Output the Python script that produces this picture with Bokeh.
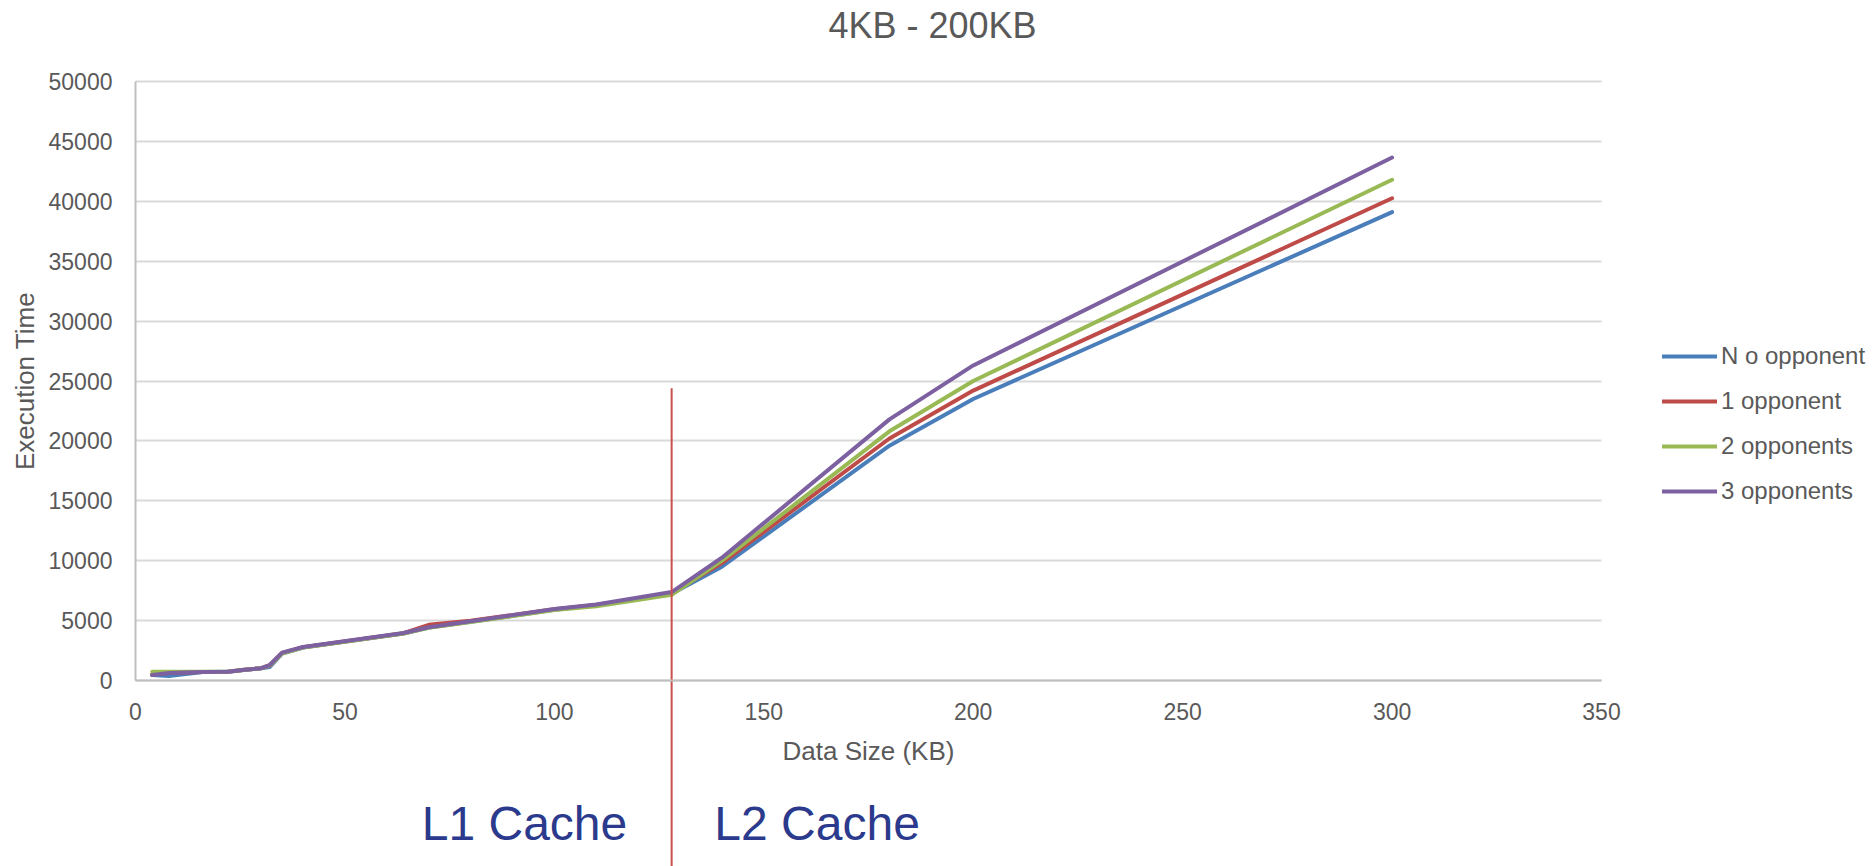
from bokeh.plotting import figure
from bokeh.models import (Range1d, FixedTicker, Legend, LegendItem, Label,
                          BasicTickFormatter, LinearAxis, Grid)
from bokeh.embed import file_html
from bokeh.resources import INLINE

# ---- data ----
x_kb = [4, 8, 16, 22, 26, 30, 32, 35, 40, 64, 70, 80, 100, 110, 128, 140, 180, 200, 300]
no_opponent = [450, 380, 700, 720, 880, 1020, 1120, 2250, 2750, 3920, 4420, 4900, 5900, 6300, 7250, 9500, 19600, 23500, 39100]
one_opponent = [500, 650, 700, 730, 890, 1030, 1250, 2300, 2780, 3950, 4650, 4980, 5950, 6300, 7300, 9800, 20200, 24200, 40250]
two_opponents = [720, 720, 730, 740, 890, 1030, 1250, 2250, 2750, 3920, 4400, 4880, 5880, 6200, 7150, 10000, 20800, 25000, 41800]
three_opponents = [450, 620, 700, 730, 890, 1030, 1280, 2330, 2800, 3960, 4450, 4950, 5970, 6350, 7380, 10250, 21800, 26300, 43650]

series_names = ["N o opponent", "1 opponent", "2 opponents", "3 opponents"]
series_values = [no_opponent, one_opponent, two_opponents, three_opponents]
series_colors = ["#4a7ebb", "#be4b48", "#98b954", "#7d60a0"]

x_ticks = [0, 50, 100, 150, 200, 250, 300, 350]
y_ticks = [0, 5000, 10000, 15000, 20000, 25000, 30000, 35000, 40000, 45000, 50000]

cache_boundary_kb = [128]
boundary_top = [24400]
l1_label_x = 117.4
l2_label_x = 138.2
cache_label_y = -11960

FONT = "Liberation Sans"
GRAY = "#595959"

# ---- layout: the frame fills the whole canvas; the axes sit at fixed data locations ----
W, H = 1874, 866
plot_left, plot_right, plot_top, plot_bottom = 135, 1601, 81, 680
x0, x1 = x_ticks[0], x_ticks[-1]
y0, y1 = y_ticks[0], y_ticks[-1]
px_x = (plot_right - plot_left) / (x1 - x0)
px_y = (plot_bottom - plot_top) / (y1 - y0)
x_range = Range1d(x0 - plot_left / px_x, x1 + (W - plot_right) / px_x)
y_range = Range1d(y0 - (H - plot_bottom) / px_y, y1 + plot_top / px_y)

p = figure(width=W, height=H, output_backend="svg", toolbar_location=None,
           x_range=x_range, y_range=y_range, x_axis_type=None, y_axis_type=None,
           min_border=0)
p.outline_line_color = None
p.background_fill_color = "white"
p.border_fill_color = "white"

# horizontal grid lines, limited to the plotting area
grid = Grid(dimension=1, ticker=FixedTicker(ticks=y_ticks),
            grid_line_color="#d9d9d9", grid_line_width=2)
try:
    grid.cross_bounds = (x0, x1)
    p.add_layout(grid)
except AttributeError:
    p.segment(x0=[x0] * len(y_ticks), x1=[x1] * len(y_ticks), y0=y_ticks, y1=y_ticks,
              line_color="#d9d9d9", line_width=2)

def style_axis(ax):
    ax.axis_line_color = "#bfbfbf"
    ax.axis_line_width = 2
    ax.major_tick_line_color = None
    ax.minor_tick_line_color = None
    ax.major_label_text_font = FONT
    ax.major_label_text_font_size = "23px"
    ax.major_label_text_color = GRAY
    ax.axis_label_text_font = FONT
    ax.axis_label_text_font_size = "26px"
    ax.axis_label_text_font_style = "normal"
    ax.axis_label_text_color = GRAY

xaxis = LinearAxis(fixed_location=y0, bounds=(x0, x1), ticker=FixedTicker(ticks=x_ticks),
                   axis_label="Data Size (KB)")
style_axis(xaxis)
xaxis.major_label_standoff = 16
xaxis.axis_label_standoff = 13
p.add_layout(xaxis, "below")

yaxis = LinearAxis(fixed_location=x0, bounds=(y0, y1), ticker=FixedTicker(ticks=y_ticks),
                   formatter=BasicTickFormatter(use_scientific=False),
                   axis_label="Execution Time")
style_axis(yaxis)
yaxis.major_label_standoff = 17
yaxis.axis_label_standoff = 6
p.add_layout(yaxis, "left")

items = []
for name, vals, col in zip(series_names, series_values, series_colors):
    r = p.line(x_kb, vals, line_color=col, line_width=4, line_join="round", line_cap="round")
    items.append(LegendItem(label=name, renderers=[r]))

legend = Legend(items=items, location=(1662, 361), orientation="vertical",
                glyph_width=55, glyph_height=26, label_height=26, spacing=17,
                padding=0, margin=0, label_standoff=4,
                border_line_color=None, background_fill_alpha=0,
                label_text_font=FONT, label_text_font_size="24px",
                label_text_color=GRAY)
p.add_layout(legend, "center")

# cache boundary line, running from the chart down past the axis
p.segment(x0=cache_boundary_kb, y0=boundary_top, x1=cache_boundary_kb, y1=[y_range.start],
          line_color="#c9504d", line_width=2)

title = Label(x=932, y=H - 25, x_units="screen", y_units="screen", text="4KB - 200KB",
              text_align="center", text_baseline="middle", text_font=FONT,
              text_font_size="36px", text_color=GRAY)
p.add_layout(title)

l1 = Label(x=l1_label_x, y=cache_label_y, text="L1 Cache", text_align="right",
           text_baseline="alphabetic", text_font=FONT, text_font_size="48px",
           text_color="#2b3a8c")
l2 = Label(x=l2_label_x, y=cache_label_y, text="L2 Cache", text_align="left",
           text_baseline="alphabetic", text_font=FONT, text_font_size="48px",
           text_color="#2b3a8c")
p.add_layout(l1)
p.add_layout(l2)

open("out.html", "w").write(file_html(p, INLINE))
